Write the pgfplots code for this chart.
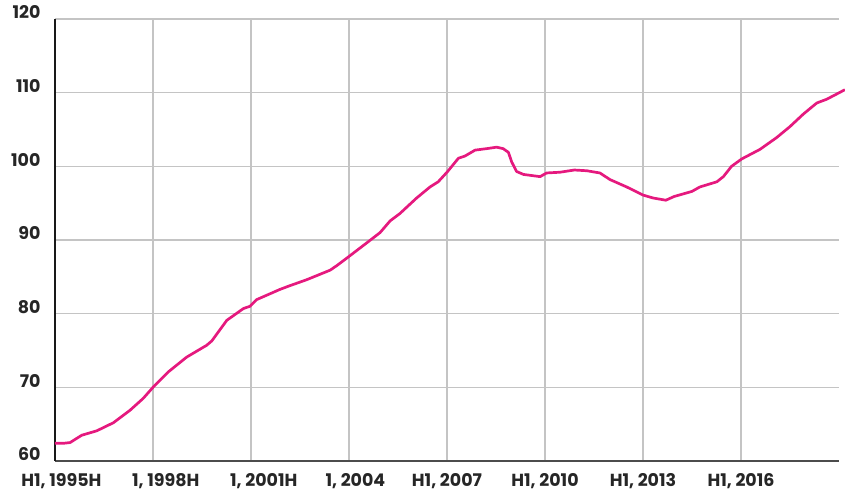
\documentclass[border=0pt]{standalone}
\usepackage{fontspec}
\setmainfont{Poppins}
\usepackage{pgfplots}
\pgfplotsset{compat=1.18}
\definecolor{linepink}{HTML}{E5197E}
\definecolor{gridgray}{HTML}{C4C4C4}
\begin{document}
\begin{tikzpicture}
\begin{axis}[
  name=ax,
  scale only axis,
  width=784bp, height=442bp,
  xmin=1995, xmax=2019,
  ymin=60, ymax=120,
  clip=false,
  axis x line*=bottom,
  axis y line*=left,
  x axis line style={draw=black!70, line width=1.5bp, -},
  y axis line style={draw=black!90, line width=1.5bp, -},
  xtick={1995,1998,2001,2004,2007,2010,2013,2016},
  xticklabels={{H1, 1995\rlap{H}},{\phantom{H}1, 1998\rlap{H}},{\phantom{H}1, 2001\rlap{H}},{\phantom{H}1, 2004},{H1, 2007},{H1, 2010},{H1, 2013},{H1, 2016}},
  ytick={60,70,80,90,100,110,120},
  major tick length=0pt,
  grid=major,
  major grid style={draw=gridgray, line width=1.3bp},
  tick label style={font=\fontsize{17.5}{19}\selectfont\bfseries, text=black!85},
  xticklabel style={anchor=base, yshift=-26bp},
  yticklabel style={anchor=base east, xshift=-11bp},
  /pgf/number format/assume math mode=true,
]
\addplot[linepink, line width=2.7bp, line join=round] coordinates {
(1995.00,62.4) (1995.25,62.4) (1995.46,62.5) (1995.82,63.5) (1996.28,64.1)
(1996.79,65.2) (1997.30,66.9) (1997.70,68.5) (1998.00,70.0) (1998.47,72.1)
(1999.03,74.1) (1999.64,75.7) (1999.80,76.3) (2000.26,79.1) (2000.77,80.7)
(2000.97,81.0) (2001.17,81.9) (2001.89,83.3) (2002.19,83.8) (2002.70,84.6)
(2003.42,85.9) (2003.62,86.5) (2003.98,87.7) (2004.54,89.6) (2004.95,91.0)
(2005.26,92.6) (2005.56,93.6) (2006.07,95.7) (2006.48,97.2) (2006.73,97.9)
(2007.00,99.2) (2007.35,101.1) (2007.55,101.4) (2007.86,102.2) (2008.21,102.4)
(2008.52,102.6) (2008.72,102.4) (2008.88,101.9) (2008.98,100.6) (2009.13,99.3)
(2009.34,98.9) (2009.85,98.6) (2010.05,99.1) (2010.46,99.2) (2010.90,99.5)
(2011.28,99.4) (2011.68,99.1) (2011.99,98.2) (2012.50,97.2) (2013.00,96.1)
(2013.31,95.7) (2013.70,95.4) (2013.95,95.9) (2014.50,96.6) (2014.74,97.2)
(2015.26,97.9) (2015.46,98.6) (2015.71,100.0) (2016.02,101.0) (2016.58,102.3)
(2017.09,103.9) (2017.50,105.4) (2017.91,107.1) (2018.32,108.6) (2018.62,109.1)
(2018.88,109.7) (2019.18,110.4)
};
\end{axis}
\pgfresetboundingbox
\path (ax.south west) ++(-55bp,-31bp) rectangle ++(845bp,492bp);
\end{tikzpicture}
\end{document}
